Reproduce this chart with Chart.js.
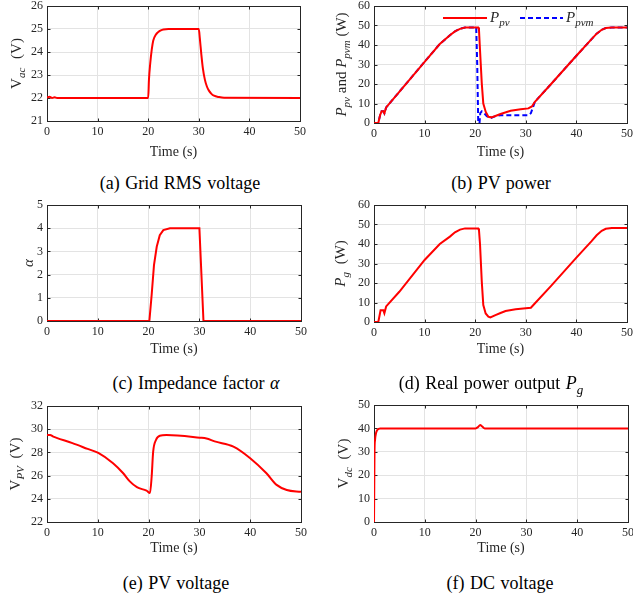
<!DOCTYPE html>
<html><head><meta charset="utf-8">
<script src="https://cdn.jsdelivr.net/npm/chart.js@4.4.1/dist/chart.umd.min.js"></script>
<style>
html,body{margin:0;padding:0;background:#fff;}
body{width:633px;height:599px;position:relative;overflow:hidden;font-family:"Liberation Serif","Times New Roman",serif;}
canvas{position:absolute;}
.cap{position:absolute;font-size:18px;line-height:20px;color:#000;white-space:nowrap;transform:translateX(-50%);word-spacing:1px;}
</style></head><body>
<canvas id="ca" width="316" height="165" style="left:0;top:0"></canvas>
<canvas id="cb" width="317" height="165" style="left:316px;top:0"></canvas>
<canvas id="cc" width="316" height="165" style="left:0;top:198px"></canvas>
<canvas id="cd" width="317" height="165" style="left:316px;top:198px"></canvas>
<canvas id="ce" width="316" height="165" style="left:0;top:399px"></canvas>
<canvas id="cf" width="317" height="165" style="left:316px;top:399px"></canvas>
<div class="cap" style="left:180px;top:173px">(a) Grid RMS voltage</div>
<div class="cap" style="left:501px;top:173px">(b) PV power</div>
<div class="cap" style="left:196px;top:373px">(c) Impedance factor <i>α</i></div>
<div class="cap" style="left:491px;top:373px">(d) Real power output <i>P</i><sub style="font-size:13px;font-style:italic">g</sub></div>
<div class="cap" style="left:176px;top:573px">(e) PV voltage</div>
<div class="cap" style="left:500px;top:573px">(f) DC voltage</div>
<script>
// ---------------- data ----------------
const xTicks = [0, 10, 20, 30, 40, 50];

// (a) grid RMS voltage
const timeA = [0,0.5,1,1.5,2,20,20.15,20.4,20.7,21,21.5,22,22.5,23,24,30,30.2,30.5,30.8,31.2,31.6,32,32.5,33,34,35,50];
const vAc   = [22.02,22.05,22.0,22.03,22,22,22.8,23.5,24.1,24.5,24.75,24.87,24.94,24.98,25,25,24.6,23.9,23.3,22.8,22.5,22.32,22.18,22.1,22.04,22.01,22];

// (b) PV power
const timePpv = [0,0.85,1.2,1.5,1.85,2.05,2.4,5,10,13,15,16,17,18,20.6,20.75,20.95,21.3,21.6,22.07,22.6,23.2,24,25,27,29,30.5,31.2,31.8,35,40,43,44,45,45.8,47,50];
const pPv     = [0,0,4,6,6,5,8,16,31.4,40.5,45,47,48.3,49,49,47.7,37.4,20.3,10,5.8,3.2,2.9,3.6,4.6,6.3,7,7.5,8.5,10.9,20,34.5,43,45.8,47.8,48.7,49,49];
const timePpvm = [0,0.85,1.2,1.5,1.85,2.05,2.4,5,10,13,15,16,17,18,20.2,20.4,20.6,20.85,21.0,21.3,21.8,22.3,23,24,25,30.5,31,31.8,35,40,43,44,45,45.8,47,50];
const pPvm     = [0,0,4,6,6,5,8,16,31.4,40.5,45,47,48.3,49,49,30,0,0,5,6,5,3.5,2.5,3.5,4,4,5,10.9,20,34.5,43,45.8,47.8,48.7,49,49];

// (c) impedance factor alpha
const timeAlpha = [0,20.15,20.6,21.06,21.6,22.2,22.9,24.2,30,30.8,50];
const alpha     = [0,0,1.12,2.41,3.2,3.7,3.92,4,4,0,0];

// (d) real power output
const timePg = [0,0.85,1.3,1.85,2.05,2.4,5,10,13,15,16,17,18,20.6,20.75,20.95,21.3,21.6,22.07,22.6,23,24,25,26,28,30,31,31.5,35,40,43,44,45,45.8,47,50];
const pG     = [0,0,6,6,4.5,8,15.5,31.8,40,43.8,46,47.4,48,48,47,40,20.7,8.7,4.4,2.7,2.3,3.5,4.6,5.6,6.5,7,7.3,8.7,18.5,33,41.5,44.5,46.8,47.8,48.2,48.2];

// (e) PV voltage
const timeVpv = [0,0.6,1.25,1.9,5,8,10.1,13,15,16.3,17.7,19.6,20.27,20.6,20.9,21.45,22.2,23.5,30.1,31.4,33,36.7,40,43.2,45.2,47.2,50];
const vPv     = [29.5,29.5,29.36,29.25,28.8,28.3,27.95,27.06,26.2,25.5,25.0,24.7,24.5,25.9,28.06,29.07,29.44,29.5,29.27,29.2,28.95,28.5,27.5,26.2,25.2,24.76,24.6];

// (f) DC voltage
const timeVdc = [0,0.05,0.1,0.2,0.4,0.7,1.2,20,20.5,20.9,21.3,21.8,50];
const vDc     = [0,15,30,35,38,39.5,40,40,40.6,41.5,40.8,40,40];

// ---------------- helpers ----------------
const FONT = '"Liberation Serif","Times New Roman",serif';
const INK = '#262626';
const pts = (xs, ys) => xs.map((x, i) => ({x, y: ys[i]}));

function segFont(p, base) { return (p.it ? 'italic ' : '') + (p.sub ? Math.round(base*0.73) : base) + 'px ' + FONT; }
function drawRich(ctx, parts, x, y, center, base) {
  let w = 0;
  parts.forEach(p => { ctx.font = segFont(p, base); w += ctx.measureText(p.t).width + (p.gap || 0); });
  let cx = center ? x - w / 2 : x;
  ctx.fillStyle = INK; ctx.textBaseline = 'alphabetic'; ctx.textAlign = 'left';
  parts.forEach(p => {
    ctx.font = segFont(p, base);
    ctx.fillText(p.t, cx, y + (p.sub ? 4 : 0));
    cx += ctx.measureText(p.t).width + (p.gap || 0);
  });
}

const framePlugin = {
  id: 'frame',
  beforeDatasetsDraw(chart) {
    const {ctx, chartArea: a, scales} = chart;
    const L = Math.round(a.left) + 0.5, T = Math.round(a.top) + 0.5;
    const R = Math.round(a.right) + 0.5, B = Math.round(a.bottom) + 0.5;
    ctx.save();
    ctx.strokeStyle = INK; ctx.lineWidth = 1;
    ctx.strokeRect(L, T, R - L, B - T);
    ctx.beginPath();
    const tl = 3;
    scales.x.ticks.forEach(t => {
      const px = Math.round(scales.x.getPixelForValue(t.value)) + 0.5;
      ctx.moveTo(px, B); ctx.lineTo(px, B - tl);
      ctx.moveTo(px, T); ctx.lineTo(px, T + tl);
    });
    scales.y.ticks.forEach(t => {
      const py = Math.round(scales.y.getPixelForValue(t.value)) + 0.5;
      ctx.moveTo(L, py); ctx.lineTo(L + tl, py);
      ctx.moveTo(R, py); ctx.lineTo(R - tl, py);
    });
    ctx.stroke();
    ctx.restore();
  }
};

const yLabelPlugin = {
  id: 'richYLabel',
  afterDraw(chart, args, opts) {
    if (!opts || !opts.parts) return;
    const {ctx, chartArea: a} = chart;
    ctx.save();
    ctx.translate(opts.x, (a.top + a.bottom) / 2);
    ctx.rotate(-Math.PI / 2);
    drawRich(ctx, opts.parts, 0, 0, true, 15);
    ctx.restore();
  }
};

const legendPlugin = {
  id: 'richLegend',
  afterDatasetsDraw(chart, args, opts) {
    if (!opts || !opts.items) return;
    const ctx = chart.ctx;
    opts.items.forEach((it, i) => {
      const ds = chart.data.datasets[i];
      ctx.save();
      ctx.strokeStyle = ds.borderColor; ctx.lineWidth = 2;
      ctx.setLineDash(ds.borderDash || []);
      ctx.beginPath(); ctx.moveTo(it.x0, it.y); ctx.lineTo(it.x1, it.y); ctx.stroke();
      ctx.setLineDash([]);
      drawRich(ctx, it.parts, it.x1 + 3, it.y + 4, false, 15);
      ctx.restore();
    });
  }
};

Chart.register(framePlugin, yLabelPlugin, legendPlugin);

function makeChart(id, c) {
  const canvas = document.getElementById(id);
  const H = canvas.height;
  return new Chart(canvas, {
    type: 'line',
    data: {datasets: c.datasets.map(d => Object.assign({
      borderColor: '#ff0000', borderWidth: 2, pointRadius: 0, fill: false,
      cubicInterpolationMode: c.smooth ? 'monotone' : 'default', tension: 0
    }, d))},
    options: {
      responsive: false, animation: false, devicePixelRatio: 1,
      layout: {padding: {left: 0, right: c.padRight, top: c.top, bottom: 0}},
      plugins: {
        legend: {display: false}, tooltip: {enabled: false},
        richYLabel: {parts: c.ylabel, x: c.ylabelX},
        richLegend: c.legend ? {items: c.legend} : {}
      },
      scales: {
        x: {
          type: 'linear', min: 0, max: 50,
          afterBuildTicks: s => { s.ticks = xTicks.map(v => ({value: v})); },
          grid: {color: '#e3e3e3', drawTicks: false},
          border: {display: false},
          ticks: {color: INK, font: {family: FONT, size: 12}, padding: 4, maxRotation: 0, autoSkip: false},
          title: {display: true, text: 'Time (s)', color: INK, font: {family: FONT, size: 14}, padding: {top: 0, bottom: c.titlePad}},
          afterFit: s => { s.height = H - c.bottom; s.paddingLeft = 0; s.paddingRight = 0; }
        },
        y: {
          type: 'linear', min: c.yTicks[0], max: c.yTicks[c.yTicks.length - 1],
          afterBuildTicks: s => { s.ticks = c.yTicks.map(v => ({value: v})); },
          grid: {color: '#e3e3e3', drawTicks: false},
          border: {display: false},
          ticks: {color: INK, font: {family: FONT, size: 12}, padding: 4, autoSkip: false},
          afterFit: s => { s.width = c.left; s.paddingTop = 0; s.paddingBottom = 0; }
        }
      }
    }
  });
}

const it = (t) => ({t, it: true});
const sub = (t, gap) => ({t, it: true, sub: true, gap: gap || 0});
const rm = (t) => ({t});

makeChart('ca', {
  datasets: [{data: pts(timeA, vAc)}], smooth: true,
  yTicks: [21, 22, 23, 24, 25, 26],
  left: 47, padRight: 16, top: 6, bottom: 121, titlePad: 4.6,
  ylabel: [rm('V'), sub('ac', 5), rm(' (V)')], ylabelX: 21
});
makeChart('cb', {
  datasets: [
    {data: pts(timePpv, pPv), borderColor: '#ff0000'},
    {data: pts(timePpvm, pPvm), borderColor: '#0000ff', borderDash: [5, 3]}
  ],
  yTicks: [0, 10, 20, 30, 40, 50, 60],
  left: 58, padRight: 6, top: 6, bottom: 123, titlePad: 4.6,
  ylabel: [it('P'), sub('pv'), rm(' and '), it('P'), sub('pvm'), rm(' (W)')], ylabelX: 30,
  legend: [
    {x0: 127, x1: 171, y: 18, parts: [it('P'), sub('pv')]},
    {x0: 204, x1: 247, y: 18, parts: [it('P'), sub('pvm')]}
  ]
});
makeChart('cc', {
  datasets: [{data: pts(timeAlpha, alpha)}],
  yTicks: [0, 1, 2, 3, 4, 5],
  left: 47, padRight: 15, top: 7, bottom: 123, titlePad: 5.6,
  ylabel: [it('α')], ylabelX: 33
});
makeChart('cd', {
  datasets: [{data: pts(timePg, pG)}],
  yTicks: [0, 10, 20, 30, 40, 50, 60],
  left: 58, padRight: 6, top: 7, bottom: 124, titlePad: 5.6,
  ylabel: [it('P'), sub('g', 4), rm(' (W)')], ylabelX: 29
});
makeChart('ce', {
  datasets: [{data: pts(timeVpv, vPv)}], smooth: true,
  yTicks: [22, 24, 26, 28, 30, 32],
  left: 47, padRight: 15, top: 7, bottom: 123, titlePad: 7.6,
  ylabel: [rm('V'), sub('PV', 4), rm(' (V)')], ylabelX: 20
});
makeChart('cf', {
  datasets: [{data: pts(timeVdc, vDc)}], smooth: true,
  yTicks: [0, 10, 20, 30, 40, 50],
  left: 58, padRight: 5, top: 6, bottom: 123, titlePad: 7.6,
  ylabel: [rm('V'), sub('dc', 4), rm(' (V)')], ylabelX: 32
});
</script>
</body></html>
